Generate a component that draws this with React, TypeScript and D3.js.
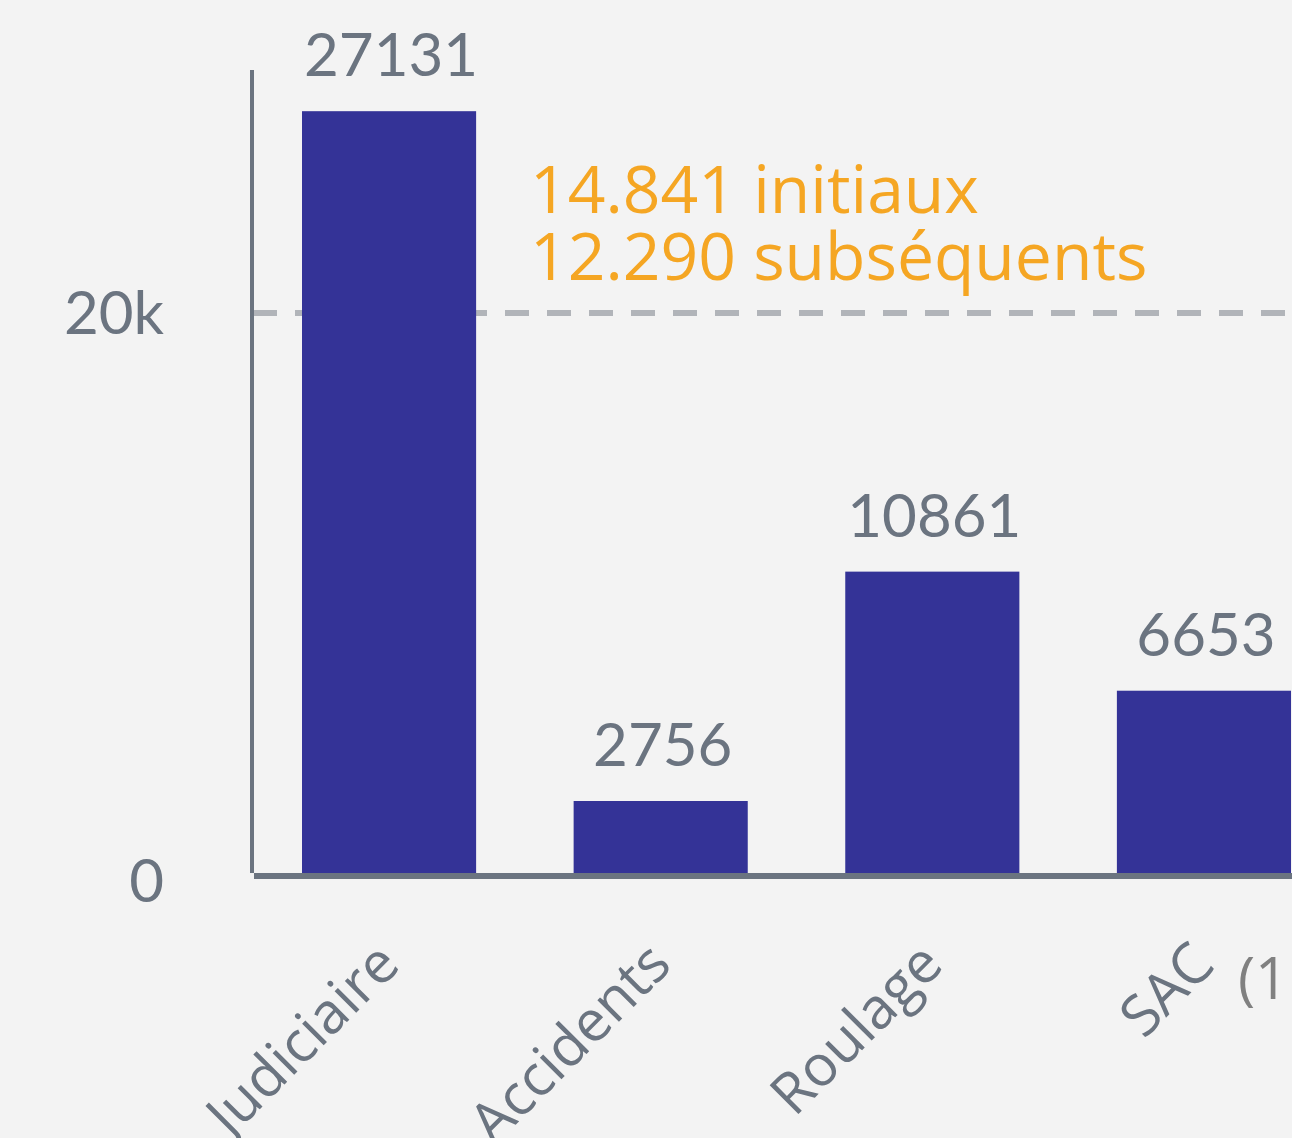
import React from 'react'
import * as d3 from 'd3'

// values
const categories = ['Judiciaire', 'Accidents', 'Roulage', 'SAC']
const values = [27131, 2756, 10861, 6653]
const yTicks = [0, 20000]
const yTickLabels = ['0', '20k']
const noteLines = ['14.841 initiaux', '12.290 subséquents']
const footnote = '(1'

const W = 1292
const H = 1138
const BAR = '#343397'
const GREY = '#6b7480'
const ORANGE = '#f5a623'

export default function App() {
  const x = d3.scaleBand<string>()
    .domain(categories)
    .range([302, 1291])
    .paddingInner(0.359)
    .paddingOuter(0)

  const y = d3.scaleLinear().domain([0, 20000]).range([879, 313])

  return (
    <svg
      width={W}
      height={H}
      style={{ position: 'absolute', left: 0, top: 0, display: 'block', background: '#f3f3f3' }}
    >
      <rect x={0} y={0} width={W} height={H} fill="#f3f3f3" />

      {/* dashed 20k line */}
      <line
        x1={253} x2={W} y1={y(20000)} y2={y(20000)}
        stroke="#b1b4b9" strokeWidth={6} strokeDasharray="24 18"
      />

      {/* bars */}
      {categories.map((c, i) => (
        <rect
          key={c}
          x={x(c)}
          y={y(values[i])}
          width={x.bandwidth()}
          height={y(0) - y(values[i])}
          fill={BAR}
        />
      ))}

      {/* axes */}
      <line x1={252} x2={252} y1={70} y2={873} stroke={GREY} strokeWidth={4} />
      <line x1={254} x2={W} y1={876} y2={876} stroke={GREY} strokeWidth={6} />

      {/* y tick labels */}
      {yTicks.map((t, i) => (
        <text
          key={t}
          x={164}
          y={y(t) + (t === 0 ? 2 : 0)}
          dy="0.35em"
          textAnchor="end"
          fontFamily="Lato"
          fontSize={60}
          fill={GREY}
        >
          {yTickLabels[i]}
        </text>
      ))}

      {/* value labels */}
      {categories.map((c, i) => (
        <text
          key={'v' + c}
          x={(x(c) as number) + x.bandwidth() / 2 + 2}
          y={y(values[i]) - 35}
          textAnchor="middle"
          fontFamily="Lato"
          fontSize={60}
          fill={GREY}
        >
          {values[i]}
        </text>
      ))}

      {/* category labels */}
      {categories.map((c) => (
        <text
          key={'c' + c}
          transform={`translate(${(x(c) as number) + x.bandwidth() / 2 + 13},967) rotate(-45)`}
          textAnchor="end"
          fontFamily="Open Sans"
          fontSize={57}
          fill={GREY}
        >
          {c}
        </text>
      ))}

      <text x={1238} y={999} fontFamily="Open Sans" fontSize={58} fill="#808080">
        {footnote}
      </text>

      {/* annotation */}
      {noteLines.map((l, i) => (
        <text
          key={l}
          x={530}
          y={213 + i * 67}
          fontFamily="Open Sans"
          fontSize={66}
          fill={ORANGE}
        >
          {l}
        </text>
      ))}
    </svg>
  )
}
